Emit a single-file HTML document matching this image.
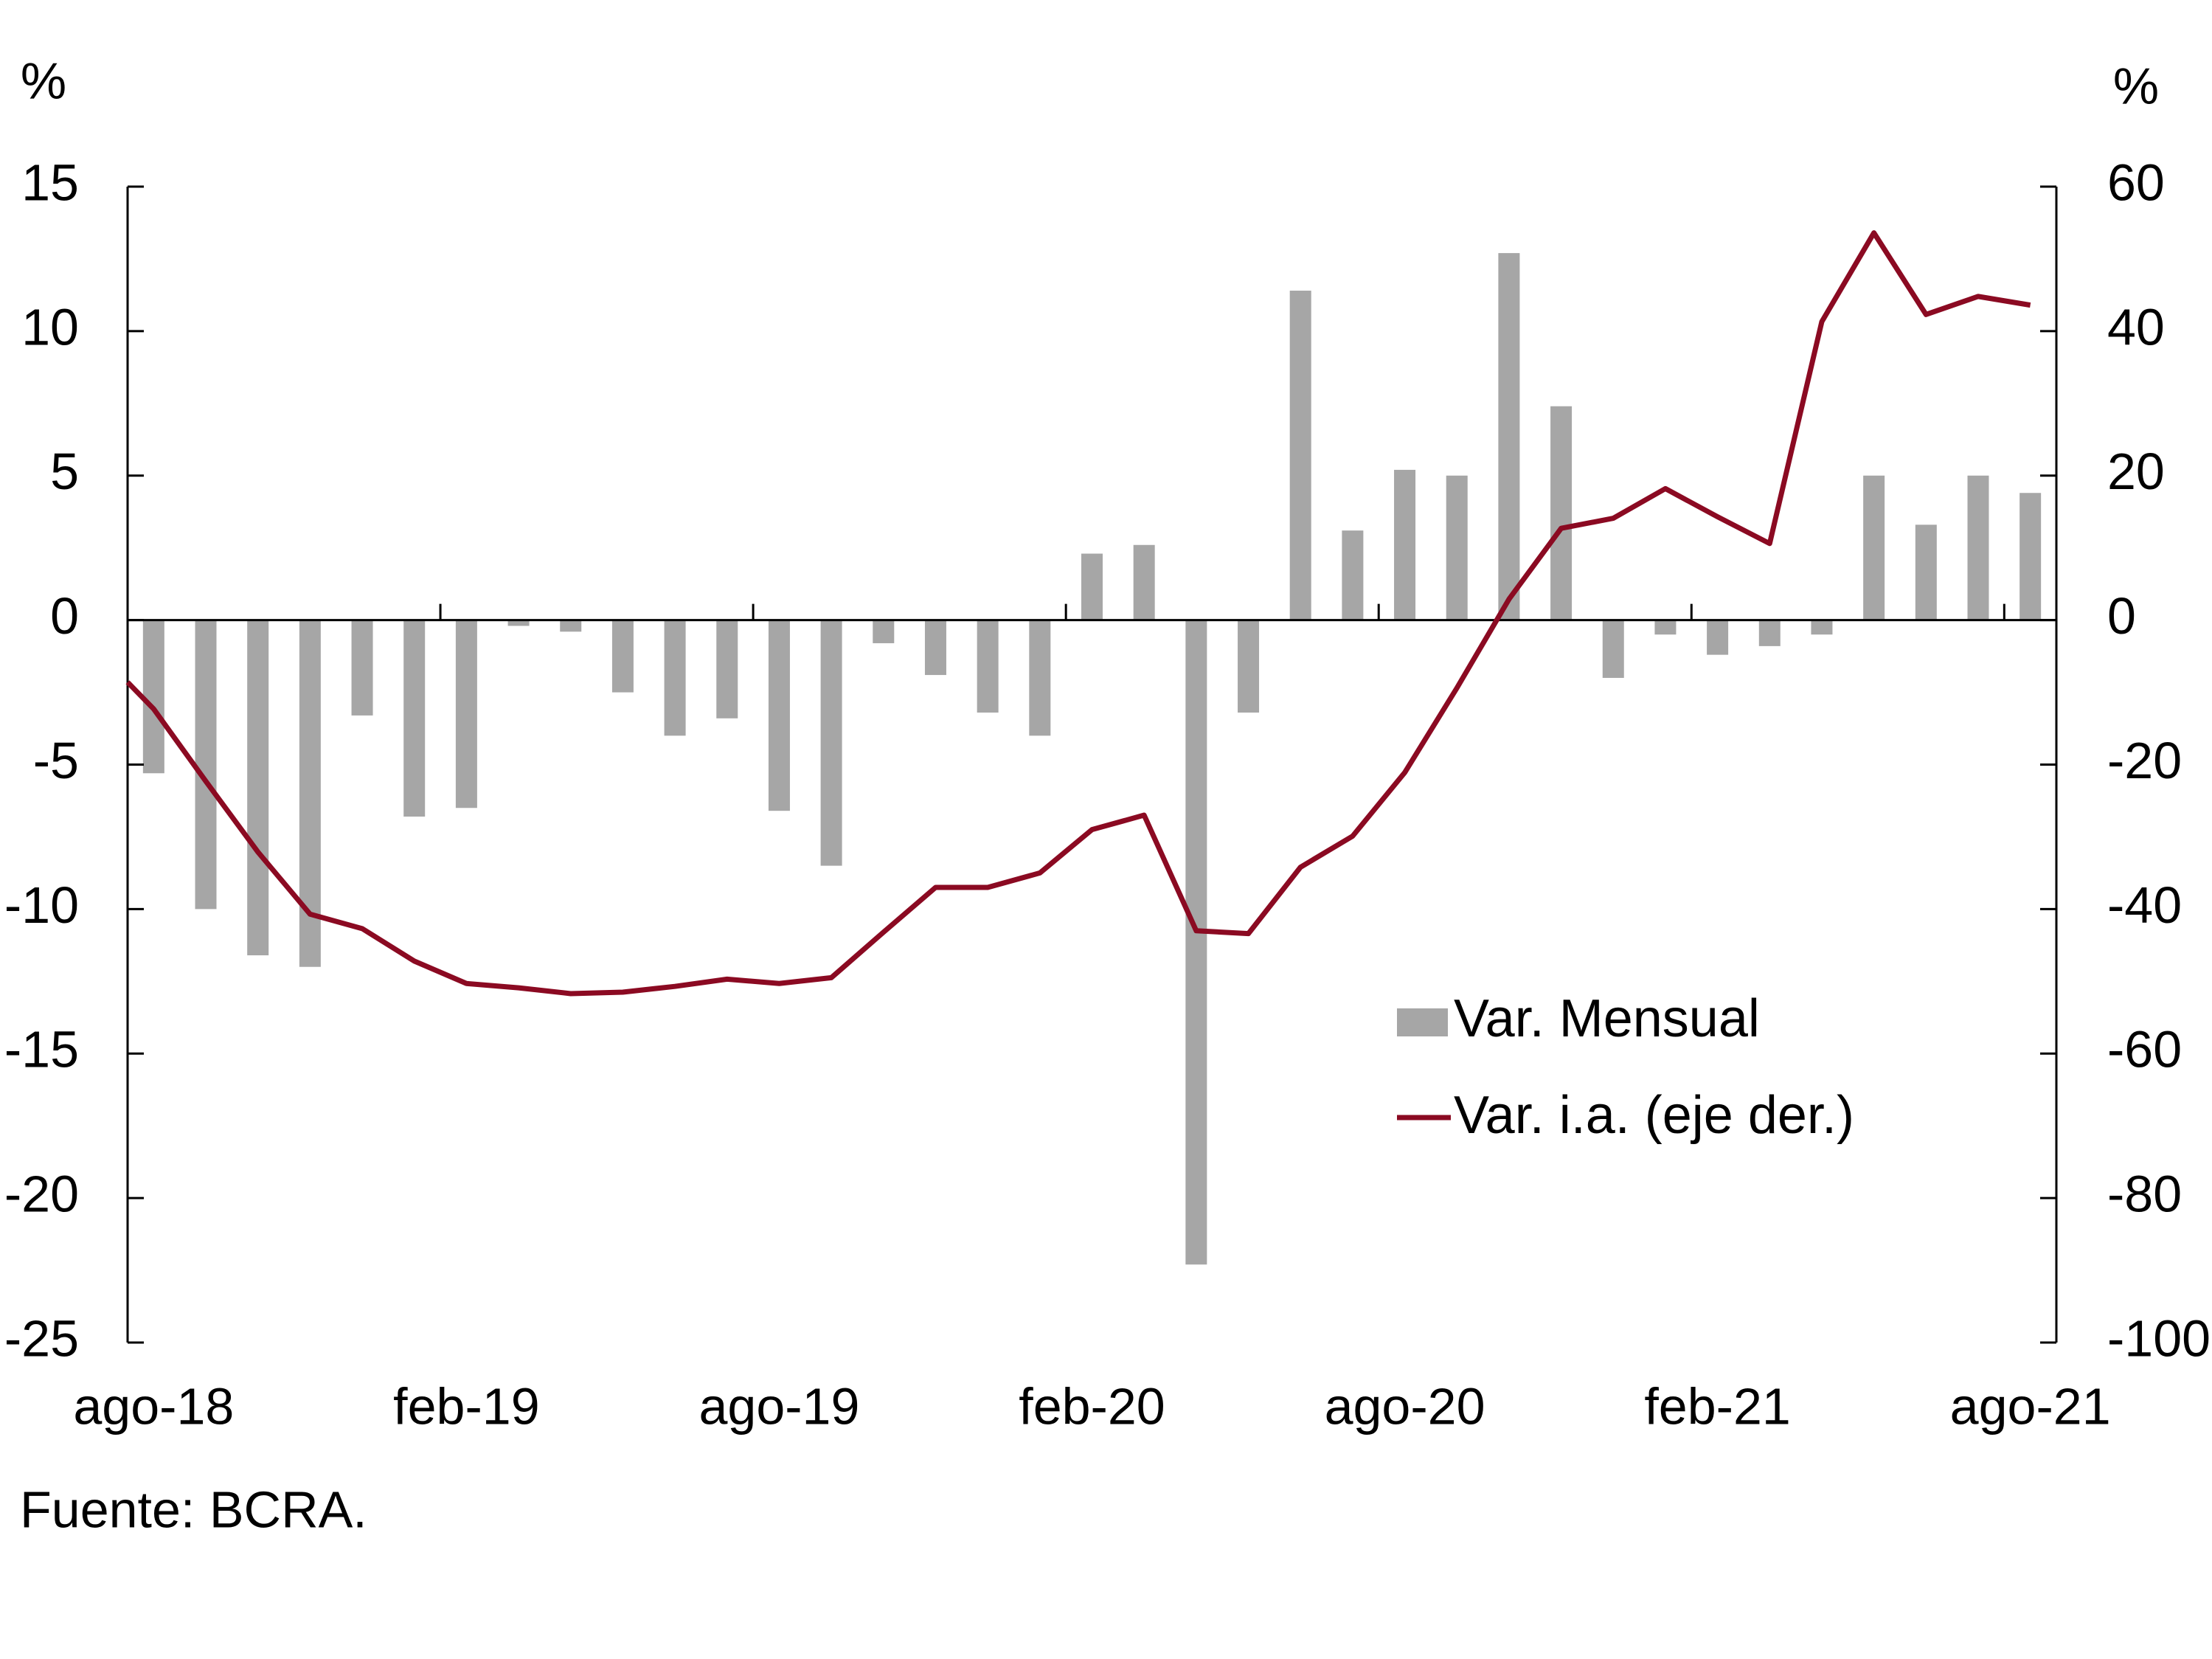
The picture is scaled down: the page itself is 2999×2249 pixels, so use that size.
<!DOCTYPE html>
<html><head><meta charset="utf-8"><style>
html,body{margin:0;padding:0;background:#fff;}
svg{display:block;font-family:"Liberation Sans",sans-serif;}
</style></head><body>
<svg id="chart" width="2999" height="2249" viewBox="0 0 2999 2249" xmlns="http://www.w3.org/2000/svg">
<g id="grid"></g>
<text x="27" y="2052" font-size="70" dominant-baseline="middle">Fuente: BCRA.</text>
</svg>
<script>
const categories=["ago-18","sep-18","oct-18","nov-18","dic-18","ene-19","feb-19","mar-19","abr-19","may-19","jun-19","jul-19","ago-19","sep-19","oct-19","nov-19","dic-19","ene-20","feb-20","mar-20","abr-20","may-20","jun-20","jul-20","ago-20","sep-20","oct-20","nov-20","dic-20","ene-21","feb-21","mar-21","abr-21","may-21","jun-21","jul-21","ago-21"];
const monthly=[-5.3,-10,-11.6,-12,-3.3,-6.8,-6.5,-0.2,-0.4,-2.5,-4,-3.4,-6.6,-8.5,-0.8,-1.9,-3.2,-4,2.3,2.6,-22.3,-3.2,11.4,3.1,5.2,5,12.7,7.4,-2,-0.5,-1.2,-0.9,-0.5,5,3.3,5,4.4];
const yoy=[-12.3,-22.3,-32.1,-40.7,-42.7,-47.2,-50.3,-50.9,-51.7,-51.5,-50.7,-49.7,-50.3,-49.5,-43.2,-37,-37,-35,-29,-27,-43,-43.4,-34.2,-29.9,-21.1,-9.4,2.9,12.7,14.1,18.2,14.3,10.6,41.3,53.6,42.3,44.8,43.6];
const yoyStart=-8.6;
const leftTicks=[15,10,5,0,-5,-10,-15,-20,-25];
const rightTicks=[60,40,20,0,-20,-40,-60,-80,-100];
const xLabelIdx=[0,6,12,18,24,30,36];

const NS="http://www.w3.org/2000/svg";
const svg=document.getElementById('chart');
const X0=173,X1=2788,YT=253,YB=1820;
const n=categories.length, step=(X1-X0)/n;
const yL=v=>YT+(15-v)*(YB-YT)/40;
const yR=v=>YT+(60-v)*(YB-YT)/160;
const xC=i=>X0+step*(i+0.5);
function el(tag,attrs){const e=document.createElementNS(NS,tag);for(const k in attrs)e.setAttribute(k,attrs[k]);svg.appendChild(e);return e;}

monthly.forEach((v,i)=>{
  const y0=yL(0),y1=yL(v);
  const r=el('rect',{x:xC(i)-14.5,y:Math.min(y0,y1),width:29,height:Math.abs(y1-y0),fill:'#a6a6a6'});
  
  
});
let a=el('line',{x1:X0,y1:YT,x2:X0,y2:YB,stroke:'#000','stroke-width':3});


a=el('line',{x1:X1,y1:YT,x2:X1,y2:YB,stroke:'#000','stroke-width':3});


a=el('line',{x1:X0,y1:yL(0),x2:X1,y2:yL(0),stroke:'#000','stroke-width':3});


leftTicks.forEach(v=>{
  el('line',{x1:X0,y1:yL(v),x2:X0+22,y2:yL(v),stroke:'#000','stroke-width':3});
  const t=el('text',{x:107,y:yL(v),'font-size':70,'text-anchor':'end','dominant-baseline':'middle'});
  t.textContent=v;
  
  
});
rightTicks.forEach(v=>{
  el('line',{x1:X1-22,y1:yR(v),x2:X1,y2:yR(v),stroke:'#000','stroke-width':3});
  const t=el('text',{x:2857,y:yR(v),'font-size':70,'dominant-baseline':'middle'});
  t.textContent=v;
  
  
});
xLabelIdx.forEach(i=>{
  if(i>0){el('line',{x1:X0+step*i,y1:yL(0),x2:X0+step*i,y2:yL(0)-22,stroke:'#000','stroke-width':3});}
  const t=el('text',{x:xC(i),y:1912,'font-size':70,'text-anchor':'middle','dominant-baseline':'middle'});
  t.textContent=categories[i];
  
  
});
let d='M'+X0+','+yR(yoyStart);
yoy.forEach((v,i)=>{d+=' L'+xC(i)+','+yR(v);});
const p=el('path',{d:d,fill:'none',stroke:'#8b0a22','stroke-width':7,'stroke-linejoin':'round'});


let u=el('text',{x:59,y:115,'font-size':70,'text-anchor':'middle','dominant-baseline':'middle'});u.textContent='%';


u=el('text',{x:2896,y:122,'font-size':70,'text-anchor':'middle','dominant-baseline':'middle'});u.textContent='%';


let lg=el('rect',{x:1894,y:1367,width:69,height:38,fill:'#a6a6a6'});


let lt=el('text',{x:1971,y:1386,'font-size':72,'dominant-baseline':'middle'});lt.textContent='Var. Mensual';


lg=el('line',{x1:1894,y1:1515,x2:1967,y2:1515,stroke:'#8b0a22','stroke-width':7});


lt=el('text',{x:1971,y:1517,'font-size':72,'dominant-baseline':'middle'});lt.textContent='Var. i.a. (eje der.)';


</script>
</body></html>
